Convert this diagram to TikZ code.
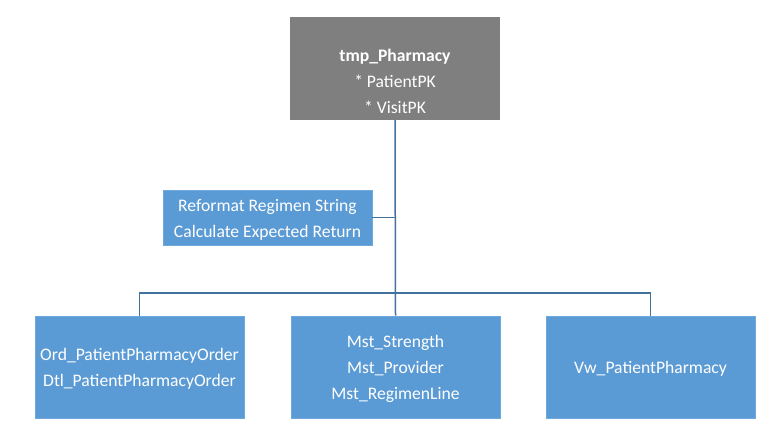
\documentclass[tikz,border=0pt]{standalone}
\usepackage{fontspec}
\setmainfont{Carlito}
\definecolor{boxblue}{HTML}{5B9BD5}
\definecolor{boxedge}{HTML}{6FA8DC}
\definecolor{topgray}{HTML}{7F7F7F}
\definecolor{linkblue}{HTML}{41719C}
\newcommand{\liftlines}[2]{\raisebox{#1}[0pt][0pt]{\begin{tabular}{@{}c@{}}#2\end{tabular}}}
\begin{document}
\begin{tikzpicture}[x=1pt,y=-1pt,
  every node/.style={font=\fontsize{17.6}{26}\selectfont, text=white, inner sep=0pt},
  bluebox/.style={fill=boxblue, draw=boxedge, line width=0.8pt, minimum width=209pt, minimum height=102pt},
  link/.style={draw=linkblue, line width=1.5pt}]
\useasboundingbox (0,0) rectangle (781,428);
\node[fill=topgray, minimum width=210pt, minimum height=103pt] (top) at (395,68.5)
  {\liftlines{-18pt}{\textbf{tmp\_Pharmacy}\\{*} PatientPK\\{*} VisitPK}};
\node[bluebox, minimum height=55pt] (label) at (267.5,217.5)
  {\liftlines{-6.4pt}{Reformat Regimen String\\Calculate Expected Return}};
\node[bluebox] (b1) at (139.5,367) {\liftlines{-6pt}{Ord\_PatientPharmacyOrder\\Dtl\_PatientPharmacyOrder}};
\node[bluebox] (b2) at (395.5,367) {\liftlines{-5.4pt}{Mst\_Strength\\Mst\_Provider\\Mst\_RegimenLine}};
\node[bluebox] (b3) at (650.5,367) {\liftlines{-6pt}{Vw\_PatientPharmacy}};
\coordinate (bus) at (395.5,293);
\draw[link] (top.south) -- (b2.north);
\draw[link] (b1.north) |- (bus) -| (b3.north);
\draw[link] (label.east) -- (label.east -| top.south);
\end{tikzpicture}
\end{document}
